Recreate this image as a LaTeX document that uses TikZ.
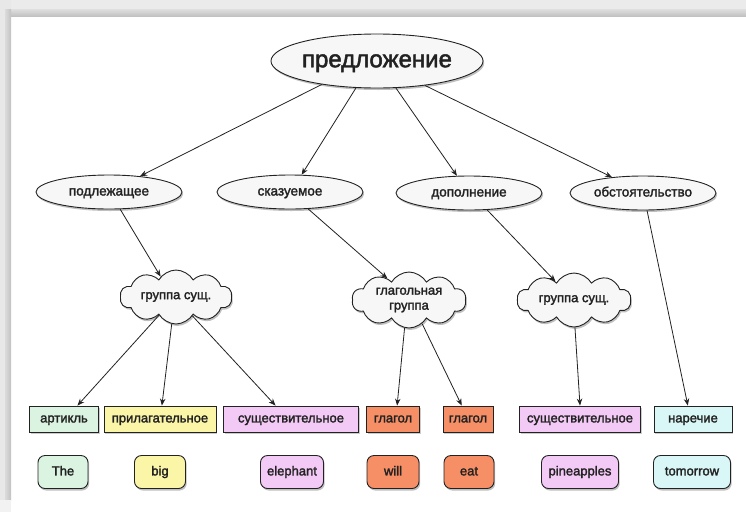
\documentclass[tikz,border=0pt]{standalone}
\usepackage{fontspec}
\setmainfont{Liberation Sans}[FakeBold=2]
\usetikzlibrary{shapes.geometric,shapes.symbols,arrows.meta,shadows}
\definecolor{mint}{HTML}{DAF4E1}
\definecolor{lemon}{HTML}{FBF5A8}
\definecolor{lilac}{HTML}{F3C9F6}
\definecolor{coral}{HTML}{F68E66}
\definecolor{aqua}{HTML}{D9F7F7}
\definecolor{ink}{HTML}{222222}
\begin{document}
\begin{tikzpicture}[x=1pt,y=-1pt,
  conn/.style={draw=ink, line width=0.8pt, -{Stealth[length=7pt,width=5.5pt]}},
  shad/.style={drop shadow={shadow xshift=1.2pt, shadow yshift=-2pt, opacity=0.25, fill=black}},
  mid/.style={text height=9.4pt, text depth=2.6pt},
  oval/.style={ellipse, draw=ink, line width=0.9pt, fill=gray!6, inner sep=0pt, text height=9.7pt, text depth=2.7pt,
    minimum width=146pt, minimum height=34pt, shad, text=ink, font=\fontsize{13.5}{15}\selectfont},
  puff/.style={cloud, cloud puffs=10, cloud puff arc=120, cloud ignores aspect, draw=ink, line width=0.9pt, fill=gray!6,
    inner sep=0pt, minimum width=112pt, minimum height=54pt, shad, text=ink, align=center,
    font=\fontsize{13}{15}\selectfont},
  tag/.style={rectangle, draw=ink, line width=0.9pt, inner sep=0pt, minimum height=26pt, mid,
    text=ink, font=\fontsize{13}{15}\selectfont, drop shadow={shadow xshift=1pt, shadow yshift=-1.5pt, opacity=0.2, fill=black}},
  word/.style={rectangle, rounded corners=7pt, draw=ink, line width=0.9pt, inner sep=0pt, mid,
    minimum height=33pt, text=ink, font=\fontsize{13}{15}\selectfont, shad}]
\useasboundingbox (0,0) rectangle (746,512);
\fill[white] (0,0) rectangle (746,512);
% frame
\fill[gray!16] (0,0) rectangle (746,16);
\shade[top color=gray!25, bottom color=gray!48] (0,9) rectangle (746,16);
\fill[gray!18] (0,0) rectangle (11,500);
\shade[left color=gray!28, right color=gray!48] (5,9) rectangle (11,500);
\fill[gray!10] (0,500) rectangle (11,512);

% root
\node[ellipse, draw=ink, line width=0.9pt, fill=gray!6, inner sep=0pt, minimum width=210pt,
  text height=17.3pt, text depth=4.8pt,
  minimum height=54pt, shad, text=ink, font=\fontsize{24}{28}\selectfont] (root) at (377,61) {предложение};

% level 2
\node[oval] (subj) at (109,192) {подлежащее};
\node[oval] (pred) at (290,192) {сказуемое};
\node[oval] (obj)  at (469,193) {дополнение};
\node[oval] (adv)  at (643,193) {обстоятельство};

% clouds
\node[puff] (np1) at (176,297) {группа сущ.};
\node[puff, minimum width=114pt, minimum height=56pt] (vp) at (409,300) {глагольная\\группа};
\node[puff, minimum width=114pt] (np2) at (574,300) {группа сущ.};

% tags
\node[tag, fill=mint,  minimum width=69pt]  (art)  at (64,419)  {артикль};
\node[tag, fill=lemon, minimum width=112pt] (adj)  at (160,419) {прилагательное};
\node[tag, fill=lilac, minimum width=135pt] (n1)   at (291,419) {существительное};
\node[tag, fill=coral, minimum width=53pt]  (v1)   at (393,419) {глагол};
\node[tag, fill=coral, minimum width=50pt]  (v2)   at (468,419) {глагол};
\node[tag, fill=lilac, minimum width=121pt] (n2)   at (580,419) {существительное};
\node[tag, fill=aqua,  minimum width=78pt]  (advt) at (693,419) {наречие};

% words
\node[word, fill=mint,  minimum width=50pt] (w1) at (63,472)  {The};
\node[word, fill=lemon, minimum width=51pt] (w2) at (160,472) {big};
\node[word, fill=lilac, minimum width=63pt] (w3) at (292,472) {elephant};
\node[word, fill=coral, minimum width=52pt] (w4) at (393,472) {will};
\node[word, fill=coral, minimum width=50pt] (w5) at (469,472) {eat};
\node[word, fill=lilac, minimum width=77pt] (w6) at (580,472) {pineapples};
\node[word, fill=aqua,  minimum width=77pt] (w7) at (692,472) {tomorrow};

% connectors
\draw[conn] (root.203) -- (subj.27);
\draw[conn] (root.232) -- (pred.56);
\draw[conn] (root.305) -- (obj.125);
\draw[conn] (root.333) -- (adv.153);

\draw[conn] (subj.303) -- (np1.127);
\draw[conn] (pred.317) -- (vp.135);
\draw[conn] (obj.317)  -- (np2.135);
\draw[conn] (adv.283)  -- (advt.111);

\draw[conn] (np1.227) -- (art.45);
\draw[conn] (np1.261) -- (adj.82);
\draw[conn] (np1.311) -- (n1.139);
\draw[conn] (vp.261) -- (v1.73);
\draw[conn] (vp.299) -- (v2.115);
\draw[conn] (np2.272) -- (n2.north);
\end{tikzpicture}
\end{document}
